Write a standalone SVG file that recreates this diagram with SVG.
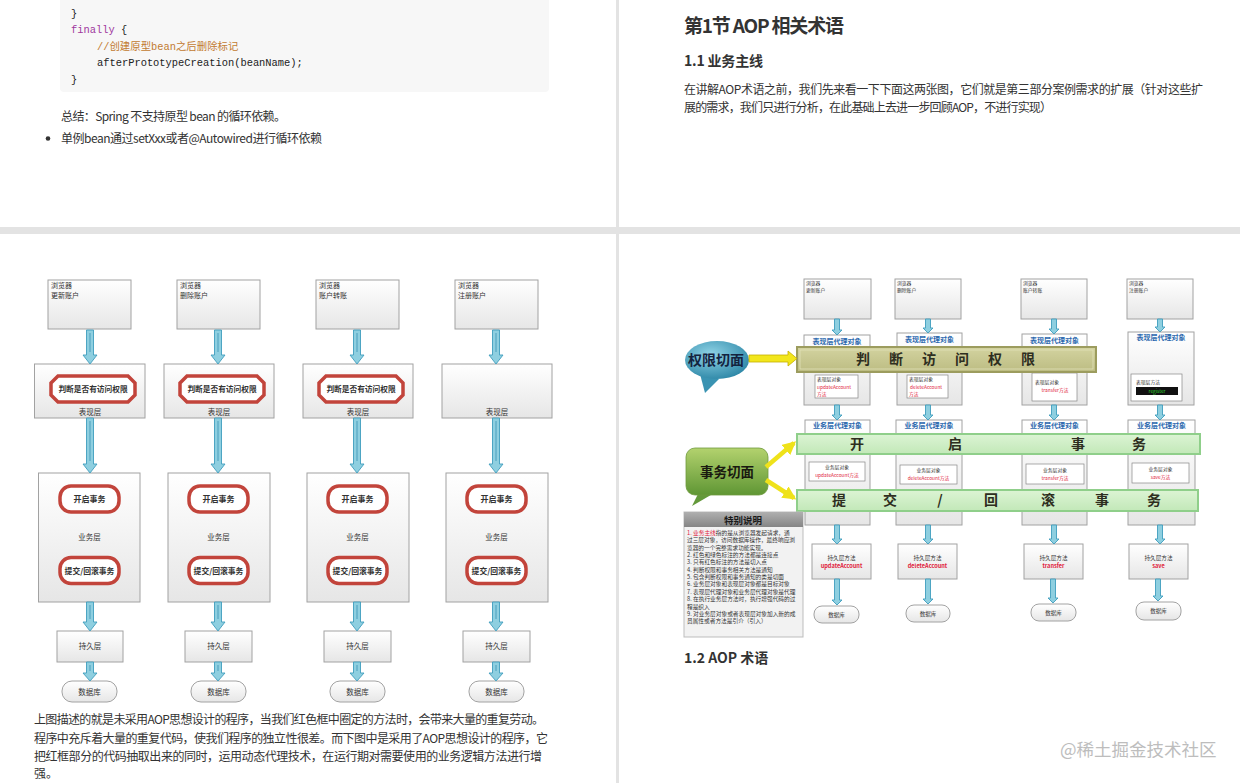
<svg xmlns="http://www.w3.org/2000/svg" width="1240" height="783" viewBox="0 0 1240 783">
<defs>
<linearGradient id="gBox" x1="0" y1="0" x2="0" y2="1"><stop offset="0" stop-color="#ffffff"/><stop offset="1" stop-color="#e6e6e6"/></linearGradient>
<radialGradient id="gTeal" cx="0.4" cy="0.35" r="0.7"><stop offset="0" stop-color="#8fd3e6"/><stop offset="1" stop-color="#2c86a6"/></radialGradient>
<linearGradient id="gGreen" x1="0" y1="0" x2="0" y2="1"><stop offset="0" stop-color="#b3d26e"/><stop offset="1" stop-color="#5f9634"/></linearGradient>
<linearGradient id="gHead" x1="0" y1="0" x2="0" y2="1"><stop offset="0" stop-color="#b0b0b0"/><stop offset="1" stop-color="#858585"/></linearGradient>
<linearGradient id="gOlive" x1="0" y1="0" x2="0" y2="1"><stop offset="0" stop-color="#d3d3a0"/><stop offset="1" stop-color="#bcbc82"/></linearGradient>
<linearGradient id="gLime" x1="0" y1="0" x2="0" y2="1"><stop offset="0" stop-color="#dcf4d4"/><stop offset="1" stop-color="#c2e8b8"/></linearGradient>
<polygon id="oct" points="-35,-13 35,-13 42,-6 42,6 35,13 -35,13 -42,6 -42,-6"/>
<rect id="rr" x="-29.5" y="-13" width="59" height="26" rx="11"/>
<marker id="yh" viewBox="0 0 10 10" refX="8" refY="5" markerWidth="3" markerHeight="3" orient="auto"><path d="M0,0 L10,5 L0,10 z" fill="#efe21a"/></marker>
</defs>
<style>
.doc{font-family:"Noto Sans CJK SC","Liberation Sans",sans-serif;fill:#333}
.code{font-family:"Liberation Mono","Noto Sans CJK SC",monospace;font-size:10.4px;fill:#222}
.box{fill:url(#gBox);stroke:#a2a2a2;stroke-width:1}
.t{font-family:"Noto Sans CJK SC",sans-serif;fill:#333}
.c{text-anchor:middle}
.b{font-weight:bold}
.red{fill:#e0203a}
.blue{fill:#2b68ae}
.oct{fill:#fff;stroke:#c2443b;stroke-width:3.5}
.ar{fill:#8ecfe0;stroke:#3f9dbd;stroke-width:0.9}
.arl{stroke:#3a93b5;stroke-width:0.8;fill:none}
.band{font-family:"Noto Sans CJK SC",serif;font-weight:bold;font-size:14px;fill:#2e2e20;text-anchor:middle}
</style>
<rect width="1240" height="783" fill="#ffffff"/>
<rect x="0" y="227" width="1240" height="7" fill="#e3e3e3"/>
<rect x="616" y="0" width="3" height="783" fill="#e3e3e3"/>

<!-- top-left page -->
<g id="page-code">
<rect x="60" y="-6" width="489" height="98" rx="4" fill="#f7f7f7"/>
<text class="code" x="71" y="17">}</text>
<text class="code" x="71" y="33"><tspan fill="#a0379e">finally</tspan> {</text>
<text class="code" x="97" y="50" fill="#c27a30" style="fill:#c27a30">//创建原型bean之后删除标记</text>
<text class="code" x="97" y="66">afterPrototypeCreation(beanName);</text>
<text class="code" x="71" y="83">}</text>
<text class="doc" x="61" y="121" font-size="12" textLength="225">总结：Spring 不支持原型 bean 的循环依赖。</text>
<circle cx="48" cy="138.5" r="2.3" fill="#333"/>
<text class="doc" x="61" y="143" font-size="12" textLength="261">单例bean通过setXxx或者@Autowired进行循环依赖</text>
</g>

<!-- top-right page -->
<g id="page-title">
<text class="doc b" x="684" y="33" font-size="19" font-weight="bold" textLength="160">第1节 AOP 相关术语</text>
<text class="doc b" x="684" y="66" font-size="14" font-weight="bold" textLength="79">1.1 业务主线</text>
<text class="doc" x="684" y="94" font-size="12" textLength="519">在讲解AOP术语之前，我们先来看一下下面这两张图，它们就是第三部分案例需求的扩展（针对这些扩</text>
<text class="doc" x="684" y="112" font-size="12" textLength="368">展的需求，我们只进行分析，在此基础上去进一步回顾AOP，不进行实现）</text>
</g>

<!-- bottom-left diagram -->
<g id="left-col1">
<rect class="box" x="48" y="280" width="83" height="49"/>
<text class="t" x="51" y="288" font-size="7">浏览器</text><text class="t" x="51" y="298" font-size="7">更新账户</text>
<rect class="box" x="34.5" y="364" width="110.5" height="54"/>
<use href="#oct" x="93" y="389" class="oct"/>
<text class="t b c" x="93" y="392" font-size="7.7">判断是否有访问权限</text>
<text class="t c" x="90" y="415" font-size="7.5">表现层</text>
<rect class="box" x="38.5" y="473" width="101.5" height="129"/>
<use href="#rr" x="89.5" y="499" class="oct"/>
<text class="t b c" x="89.5" y="502" font-size="8">开启事务</text>
<text class="t c" x="89.5" y="540" font-size="7.5">业务层</text>
<use href="#rr" x="89.5" y="570.5" class="oct"/>
<text class="t b c" x="89.5" y="573.5" font-size="7.8">提交/回滚事务</text>
<rect class="box" x="57" y="631" width="66" height="31"/>
<text class="t c" x="90" y="649" font-size="7.5">持久层</text>
<rect class="box" x="62" y="681" width="55" height="21" rx="10"/>
<text class="t c" x="89.5" y="694.5" font-size="7.5">数据库</text>
</g>
<g id="left-col2">
<rect class="box" x="177" y="280" width="83" height="49"/>
<text class="t" x="180" y="288" font-size="7">浏览器</text><text class="t" x="180" y="298" font-size="7">删除账户</text>
<rect class="box" x="164" y="364" width="110" height="54"/>
<use href="#oct" x="222" y="389" class="oct"/>
<text class="t b c" x="222" y="392" font-size="7.7">判断是否有访问权限</text>
<text class="t c" x="219" y="415" font-size="7.5">表现层</text>
<rect class="box" x="168" y="473" width="102" height="129"/>
<use href="#rr" x="218.5" y="499" class="oct"/>
<text class="t b c" x="218.5" y="502" font-size="8">开启事务</text>
<text class="t c" x="218.5" y="540" font-size="7.5">业务层</text>
<use href="#rr" x="218.5" y="570.5" class="oct"/>
<text class="t b c" x="218.5" y="573.5" font-size="7.8">提交/回滚事务</text>
<rect class="box" x="185" y="631" width="67" height="31"/>
<text class="t c" x="218.5" y="649" font-size="7.5">持久层</text>
<rect class="box" x="191" y="681" width="55" height="21" rx="10"/>
<text class="t c" x="218.5" y="694.5" font-size="7.5">数据库</text>
</g>
<g id="left-col3">
<rect class="box" x="316" y="280" width="83" height="49"/>
<text class="t" x="319" y="288" font-size="7">浏览器</text><text class="t" x="319" y="298" font-size="7">账户转账</text>
<rect class="box" x="303" y="364" width="110" height="54"/>
<use href="#oct" x="361" y="389" class="oct"/>
<text class="t b c" x="361" y="392" font-size="7.7">判断是否有访问权限</text>
<text class="t c" x="358" y="415" font-size="7.5">表现层</text>
<rect class="box" x="307" y="473" width="102" height="129"/>
<use href="#rr" x="357.5" y="499" class="oct"/>
<text class="t b c" x="357.5" y="502" font-size="8">开启事务</text>
<text class="t c" x="357.5" y="540" font-size="7.5">业务层</text>
<use href="#rr" x="357.5" y="570.5" class="oct"/>
<text class="t b c" x="357.5" y="573.5" font-size="7.8">提交/回滚事务</text>
<rect class="box" x="324" y="631" width="67" height="31"/>
<text class="t c" x="357.5" y="649" font-size="7.5">持久层</text>
<rect class="box" x="330" y="681" width="55" height="21" rx="10"/>
<text class="t c" x="357.5" y="694.5" font-size="7.5">数据库</text>
</g>
<g id="left-col4">
<rect class="box" x="455" y="280" width="83" height="49"/>
<text class="t" x="458" y="288" font-size="7">浏览器</text><text class="t" x="458" y="298" font-size="7">注册账户</text>
<rect class="box" x="442" y="364" width="110" height="54"/>
<text class="t c" x="497" y="415" font-size="7.5">表现层</text>
<rect class="box" x="446" y="473" width="102" height="129"/>
<use href="#rr" x="496.5" y="499" class="oct"/>
<text class="t b c" x="496.5" y="502" font-size="8">开启事务</text>
<text class="t c" x="496.5" y="540" font-size="7.5">业务层</text>
<use href="#rr" x="496.5" y="570.5" class="oct"/>
<text class="t b c" x="496.5" y="573.5" font-size="7.8">提交/回滚事务</text>
<rect class="box" x="463" y="631" width="67" height="31"/>
<text class="t c" x="496.5" y="649" font-size="7.5">持久层</text>
<rect class="box" x="469" y="681" width="55" height="21" rx="10"/>
<text class="t c" x="496.5" y="694.5" font-size="7.5">数据库</text>
</g>
<g id="left-connectors">
<path class="ar" d="M86.5,330 H93.5 V355 H97 L90,364 L83,355 H86.5 Z M86.5,418 H93.5 V464 H97 L90,473 L83,464 H86.5 Z M86.5,602 H93.5 V622 H97 L90,631 L83,622 H86.5 Z M86.5,662 H93.5 V673 H97 L90,681 L83,673 H86.5 Z"/>
<path class="ar" d="M214.5,330 H221.5 V355 H225 L218,364 L211,355 H214.5 Z M214.5,418 H221.5 V464 H225 L218,473 L211,464 H214.5 Z M214.5,602 H221.5 V622 H225 L218,631 L211,622 H214.5 Z M214.5,662 H221.5 V673 H225 L218,681 L211,673 H214.5 Z"/>
<path class="ar" d="M353.5,330 H360.5 V355 H364 L357,364 L350,355 H353.5 Z M353.5,418 H360.5 V464 H364 L357,473 L350,464 H353.5 Z M353.5,602 H360.5 V622 H364 L357,631 L350,622 H353.5 Z M353.5,662 H360.5 V673 H364 L357,681 L350,673 H353.5 Z"/>
<path class="ar" d="M492.5,330 H499.5 V355 H503 L496,364 L489,355 H492.5 Z M492.5,418 H499.5 V464 H503 L496,473 L489,464 H492.5 Z M492.5,602 H499.5 V622 H503 L496,631 L489,622 H492.5 Z M492.5,662 H499.5 V673 H503 L496,681 L489,673 H492.5 Z"/>
<path class="arl" d="M90,333 V352 M90,421 V461 M90,605 V619 M90,665 V671 M218,333 V352 M218,421 V461 M218,605 V619 M218,665 V671 M357,333 V352 M357,421 V461 M357,605 V619 M357,665 V671 M496,333 V352 M496,421 V461 M496,605 V619 M496,665 V671"/>
</g>
<g id="left-text">
<text class="doc" x="34" y="724" font-size="12" textLength="510">上图描述的就是未采用AOP思想设计的程序，当我们红色框中圈定的方法时，会带来大量的重复劳动。</text>
<text class="doc" x="34" y="743" font-size="12" textLength="514">程序中充斥着大量的重复代码，使我们程序的独立性很差。而下图中是采用了AOP思想设计的程序，它</text>
<text class="doc" x="34" y="761" font-size="12" textLength="508">把红框部分的代码抽取出来的同时，运用动态代理技术，在运行期对需要使用的业务逻辑方法进行增</text>
<text class="doc" x="34" y="778" font-size="12">强。</text>
</g>

<!-- bottom-right diagram -->
<g id="right-col1">
<rect class="box" x="804" y="279" width="67" height="40"/>
<text class="t" x="806" y="285" font-size="4.8">浏览器</text><text class="t" x="806" y="292" font-size="4.8">更新账户</text>
<rect class="box" x="804" y="335" width="66" height="70"/>
<text class="t b c blue" x="837" y="344" font-size="7">表现层代理对象</text>
<rect x="815" y="375" width="43" height="23" fill="#fff" stroke="#888" stroke-width="0.7"/>
<text class="t" x="817" y="381" font-size="4.8">表现层对象</text>
<text class="t red" x="817" y="388.5" font-size="4.8">updateAccount</text>
<text class="t red" x="817" y="396" font-size="4.8">方法</text>
<rect class="box" x="805" y="420" width="65" height="105"/>
<text class="t b c blue" x="837.5" y="428" font-size="7">业务层代理对象</text>
<rect x="809" y="462" width="56" height="19" fill="#fff" stroke="#888" stroke-width="0.7"/>
<text class="t c" x="837" y="469" font-size="4.8">业务层对象</text>
<text class="t c red" x="837" y="477" font-size="4.8">updateAccount方法</text>
<rect class="box" x="812" y="544" width="59" height="35"/>
<text class="t c" x="841.5" y="560" font-size="5.6">持久层方法</text>
<text class="t c b red" x="841.5" y="568" font-size="5.6">updateAccount</text>
<rect class="box" x="814" y="606" width="45" height="17" rx="8"/>
<text class="t c" x="836.5" y="616.5" font-size="5.5">数据库</text>
</g>
<g id="right-col2">
<rect class="box" x="895" y="279" width="66" height="40"/>
<text class="t" x="897" y="285" font-size="4.8">浏览器</text><text class="t" x="897" y="292" font-size="4.8">删除账户</text>
<rect class="box" x="897" y="333" width="65" height="72"/>
<text class="t b c blue" x="929.5" y="342" font-size="7">表现层代理对象</text>
<rect x="907" y="375" width="41" height="23" fill="#fff" stroke="#888" stroke-width="0.7"/>
<text class="t" x="909" y="381" font-size="4.8">表现层对象</text>
<text class="t red" x="910" y="388.5" font-size="4.8">deleteAccount</text>
<text class="t red" x="909" y="396" font-size="4.8">方法</text>
<rect class="box" x="896" y="420" width="66" height="105"/>
<text class="t b c blue" x="929" y="428" font-size="7">业务层代理对象</text>
<rect x="900" y="465" width="57" height="19" fill="#fff" stroke="#888" stroke-width="0.7"/>
<text class="t c" x="928.5" y="472" font-size="4.8">业务层对象</text>
<text class="t c red" x="928.5" y="480" font-size="4.8">deleteAccount方法</text>
<rect class="box" x="898" y="544" width="59" height="35"/>
<text class="t c" x="927.5" y="560" font-size="5.6">持久层方法</text>
<text class="t c b red" x="927.5" y="568" font-size="5.6">deleteAccount</text>
<rect class="box" x="906" y="605" width="44" height="17" rx="8"/>
<text class="t c" x="928" y="615.5" font-size="5.5">数据库</text>
</g>
<g id="right-col3">
<rect class="box" x="1021" y="279" width="66" height="40"/>
<text class="t" x="1023" y="285" font-size="4.8">浏览器</text><text class="t" x="1023" y="292" font-size="4.8">账户转账</text>
<rect class="box" x="1022" y="334" width="65" height="71"/>
<text class="t b c blue" x="1054.5" y="343" font-size="7">表现层代理对象</text>
<rect x="1032" y="373" width="45" height="28" fill="#fff" stroke="#888" stroke-width="0.7"/>
<text class="t" x="1035" y="384" font-size="4.8">表现层对象</text>
<text class="t c red" x="1055" y="392" font-size="4.8">transfer方法</text>
<rect class="box" x="1022" y="420" width="65" height="105"/>
<text class="t b c blue" x="1054.5" y="428" font-size="7">业务层代理对象</text>
<rect x="1026" y="464" width="58" height="20" fill="#fff" stroke="#888" stroke-width="0.7"/>
<text class="t c" x="1055" y="471.5" font-size="4.8">业务层对象</text>
<text class="t c red" x="1055" y="479.5" font-size="4.8">transfer方法</text>
<rect class="box" x="1024" y="544" width="59" height="35"/>
<text class="t c" x="1053.5" y="560" font-size="5.6">持久层方法</text>
<text class="t c b red" x="1053.5" y="568" font-size="5.6">transfer</text>
<rect class="box" x="1031" y="604" width="45" height="17" rx="8"/>
<text class="t c" x="1053.5" y="614.5" font-size="5.5">数据库</text>
</g>
<g id="right-col4">
<rect class="box" x="1127" y="279" width="66" height="40"/>
<text class="t" x="1129" y="285" font-size="4.8">浏览器</text><text class="t" x="1129" y="292" font-size="4.8">注册账户</text>
<rect class="box" x="1128" y="332" width="66" height="73"/>
<text class="t b c blue" x="1161" y="340" font-size="7">表现层代理对象</text>
<rect x="1131" y="374" width="51" height="27" fill="#fff" stroke="#888" stroke-width="0.7"/>
<text class="t" x="1136" y="384" font-size="4.8">表现层方法</text>
<rect x="1136" y="387" width="42" height="8" fill="#111"/>
<text class="t c" x="1157" y="393.2" font-size="4.8" style="fill:#2fd02f">register</text>
<rect class="box" x="1128" y="420" width="67" height="105"/>
<text class="t b c blue" x="1161.5" y="428" font-size="7">业务层代理对象</text>
<rect x="1132" y="463" width="57" height="20" fill="#fff" stroke="#888" stroke-width="0.7"/>
<text class="t c" x="1160.5" y="470.5" font-size="4.8">业务层对象</text>
<text class="t c red" x="1160.5" y="478.5" font-size="4.8">save方法</text>
<rect class="box" x="1129" y="544" width="59" height="35"/>
<text class="t c" x="1158.5" y="560" font-size="5.6">持久层方法</text>
<text class="t c b red" x="1158.5" y="568" font-size="5.6">save</text>
<rect class="box" x="1136" y="602" width="45" height="18" rx="8"/>
<text class="t c" x="1158.5" y="613" font-size="5.5">数据库</text>
</g>
<g id="band-auth">
<rect x="797" y="347" width="299" height="25" fill="url(#gOlive)" stroke="#9c9c5e" stroke-width="2"/>
<rect x="800" y="350" width="293" height="19" fill="none" stroke="#e2e2b8" stroke-width="0.8"/>
<text class="band" x="863" y="364">判</text><text class="band" x="896" y="364">断</text><text class="band" x="929" y="364">访</text><text class="band" x="962" y="364">问</text><text class="band" x="995" y="364">权</text><text class="band" x="1028" y="364">限</text>
</g>
<g id="band-begin">
<rect x="797" y="434" width="403" height="20" fill="url(#gLime)" stroke="#8fcf8a" stroke-width="2"/>
<text class="band" x="857" y="449">开</text><text class="band" x="955" y="449">启</text><text class="band" x="1078" y="449">事</text><text class="band" x="1139" y="449">务</text>
</g>
<g id="band-commit">
<rect x="797" y="490" width="401" height="21" fill="url(#gLime)" stroke="#8fcf8a" stroke-width="2"/>
<text class="band" x="839" y="505">提</text><text class="band" x="890" y="505">交</text><text class="band" x="940" y="505">/</text><text class="band" x="991" y="505">回</text><text class="band" x="1048" y="505">滚</text><text class="band" x="1102" y="505">事</text><text class="band" x="1154" y="505">务</text>
</g>
<g id="aspect-auth">
<path d="M700,374 L705,393 L719,379 Z" fill="#3a93b2"/>
<ellipse cx="717" cy="360" rx="32" ry="19" fill="url(#gTeal)"/>
<text class="t b c" x="716" y="365" font-size="14" style="fill:#14233f">权限切面</text>
</g>
<g id="aspect-tx">
<path d="M700,490 L692,506 L716,492 Z" fill="#63993a"/>
<rect x="686" y="448" width="82" height="47" rx="9" fill="url(#gGreen)" stroke="#6e9a3e" stroke-width="0.8"/>
<text class="t b c" x="727" y="477" font-size="13.5" style="fill:#1a1a10">事务切面</text>
</g>
<g id="notes">
<rect x="684" y="512" width="119" height="125" fill="#f2f2f2" stroke="#bdbdbd" stroke-width="1"/>
<rect x="684" y="512" width="119" height="15" fill="url(#gHead)"/>
<text class="t b c" x="743" y="523.5" font-size="9.5" style="fill:#1a1a1a">特别说明</text>
<g class="t" font-size="5.7">
<text x="687" y="535"><tspan class="red">1. 业务主线</tspan>指的是从浏览器发起请求，通</text>
<text x="687" y="542.4">过三层对象，访问数据库操作，最终响应浏</text>
<text x="687" y="549.7">览器的一个完整需求功能实现。</text>
<text x="687" y="557">2. 红色和绿色标注的方法都是连接点</text>
<text x="687" y="564.4">3. 只有红色标注的方法是切入点</text>
<text x="687" y="571.7">4. 判断权限和事务相关方法是通知</text>
<text x="687" y="579">5. 包含判断权限和事务通知的类是切面</text>
<text x="687" y="586.4">6. 业务层对象和表现层对象都是目标对象</text>
<text x="687" y="593.8">7. 表现层代理对象和业务层代理对象是代理</text>
<text x="687" y="601.1">8. 在执行业务层方法时，执行增强代码的过</text>
<text x="687" y="608.5">程是织入</text>
<text x="687" y="615.8">9. 对业务层对象或者表现层对象加入新的成</text>
<text x="687" y="623.2">员属性或者方法是引介（引入）</text>
</g>
</g>
<g id="right-connectors">
<path class="ar" d="M834.5,319 H839.5 V330 H842 L837,335 L832,330 H834.5 Z M834.5,405 H839.5 V415 H842 L837,420 L832,415 H834.5 Z M834.5,525 H839.5 V539 H842 L837,544 L832,539 H834.5 Z M834.5,579 H839.5 V600 H842 L837,605 L832,600 H834.5 Z"/>
<path class="ar" d="M925.5,319 H930.5 V328 H933 L928,333 L923,328 H925.5 Z M925.5,405 H930.5 V415 H933 L928,420 L923,415 H925.5 Z M925.5,525 H930.5 V539 H933 L928,544 L923,539 H925.5 Z M925.5,579 H930.5 V599 H933 L928,604 L923,599 H925.5 Z"/>
<path class="ar" d="M1051.5,319 H1056.5 V329 H1059 L1054,334 L1049,329 H1051.5 Z M1051.5,405 H1056.5 V415 H1059 L1054,420 L1049,415 H1051.5 Z M1051.5,525 H1056.5 V539 H1059 L1054,544 L1049,539 H1051.5 Z M1050.5,579 H1055.5 V598 H1058 L1053,603 L1048,598 H1050.5 Z"/>
<path class="ar" d="M1157.5,319 H1162.5 V327 H1165 L1160,332 L1155,327 H1157.5 Z M1157.5,405 H1162.5 V415 H1165 L1160,420 L1155,415 H1157.5 Z M1157.5,525 H1162.5 V539 H1165 L1160,544 L1155,539 H1157.5 Z M1155.5,579 H1160.5 V596 H1163 L1158,601 L1153,596 H1155.5 Z"/>
<path d="M749,355 H788 V351 L797,358.5 L788,366 V362 H749 Z" fill="#f2e61c" stroke="#c4ae00" stroke-width="0.8"/>
<line x1="766" y1="467" x2="794" y2="443" stroke="#efe21a" stroke-width="4.5" marker-end="url(#yh)"/>
<line x1="766" y1="480" x2="794" y2="498" stroke="#efe21a" stroke-width="4.5" marker-end="url(#yh)"/>
</g>
<g id="right-text">
<text class="doc b" x="684" y="663" font-size="14" font-weight="bold">1.2 AOP 术语</text>
<text class="t" x="1060" y="756" font-size="17.5" style="fill:#bdbdbd">@稀土掘金技术社区</text>
</g>
</svg>
